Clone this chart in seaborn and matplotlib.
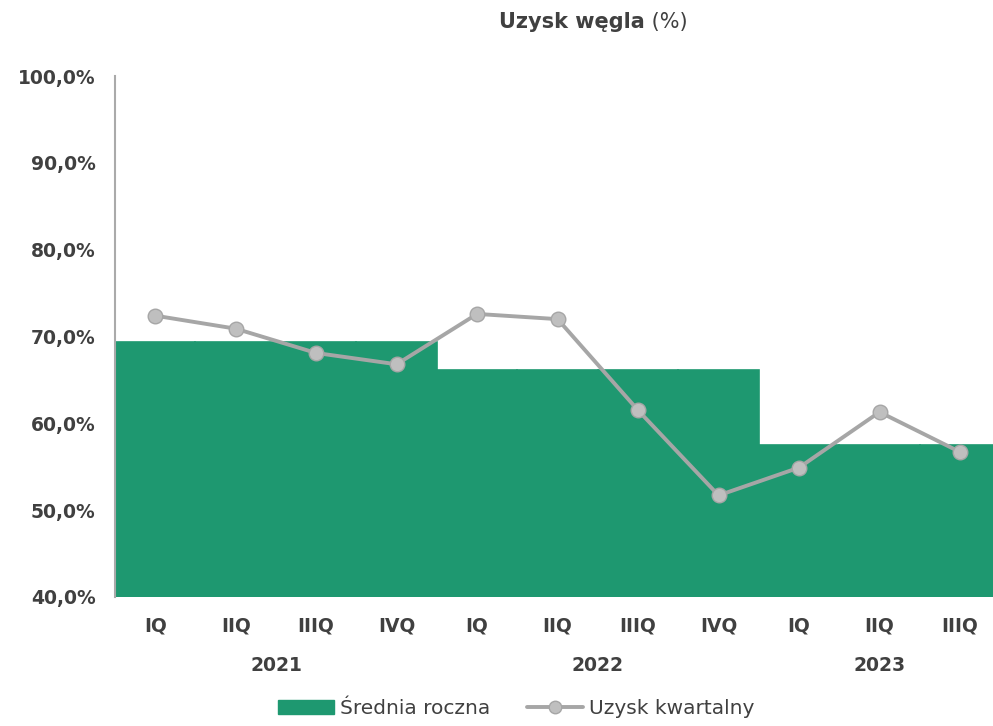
import pandas as pd
import seaborn as sns
import matplotlib.pyplot as plt
from matplotlib.patches import Patch
from matplotlib.lines import Line2D
import matplotlib.transforms as mtransforms

# --- Data ---
quarters = ["IQ", "IIQ", "IIIQ", "IVQ", "IQ", "IIQ", "IIIQ", "IVQ", "IQ", "IIQ", "IIIQ"]
years = ["2021", "2022", "2023"]
year_of_quarter = ["2021"] * 4 + ["2022"] * 4 + ["2023"] * 3
annual_avg = {"2021": 69.4, "2022": 66.1, "2023": 57.5}
quarterly_yield = [72.4, 70.9, 68.1, 66.8, 72.6, 72.0, 61.5, 51.7, 54.9, 61.3, 56.7]

df = pd.DataFrame({
    "pos": range(len(quarters)),
    "quarter": quarters,
    "year": year_of_quarter,
    "quarterly": quarterly_yield,
})
df["annual"] = df["year"].map(annual_avg)

green = "#1e9870"
line_gray = "#a6a6a6"
marker_gray = "#bfbfbf"
text_col = "#404040"

sns.set_style("white")
plt.rcParams["font.family"] = ["DejaVu Sans"]

fig = plt.figure(figsize=(9.93, 7.26), dpi=100)
ax = fig.add_axes([0.1158, 0.1777, 0.8842, 0.7176])

# --- Bars (annual average, one per quarter, no gaps) ---
sns.barplot(data=df, x="pos", y="annual", color=green, width=1.0,
            saturation=1, edgecolor=green, linewidth=1.2, ax=ax)

# --- Line (quarterly yield) ---
ax.plot(df["pos"], df["quarterly"], color=line_gray, linewidth=2.8,
        marker="o", markersize=10.5, markerfacecolor=marker_gray,
        markeredgecolor=line_gray, markeredgewidth=1, zorder=5)

ax.set_ylim(40, 100)
ax.set_xlim(-0.5, 10.41)
ax.set_yticks(range(40, 101, 10))
ax.set_yticklabels([f"{v},0%" for v in range(40, 101, 10)],
                   fontsize=13.5, fontweight="bold", color=text_col)
ax.set_xticks(range(len(quarters)))
ax.set_xticklabels(quarters, fontsize=13.5, fontweight="bold", color=text_col)
ax.tick_params(axis="x", length=0, pad=14)
ax.tick_params(axis="y", length=0, pad=14)
ax.set_xlabel("")
ax.set_ylabel("")

for s in ["top", "right", "bottom"]:
    ax.spines[s].set_visible(False)
ax.spines["left"].set_color("#aaaaaa")
ax.spines["left"].set_linewidth(1.5)

# --- Year labels ---
trans = mtransforms.blended_transform_factory(ax.transData, ax.transAxes)
for y in years:
    idx = df.index[df["year"] == y]
    ax.text(idx.to_series().mean(), -0.131, y, transform=trans, ha="center",
            va="center", fontsize=13.5, fontweight="bold", color=text_col)

# --- Title (bold part + regular part, centred together) ---
ty = 1 - 22 / 726
t1 = fig.text(0, ty, "Uzysk węgla", ha="left", va="center",
              fontsize=15, fontweight="bold", color=text_col)
t2 = fig.text(0, ty, " (%)", ha="left", va="center",
              fontsize=15, color=text_col)
r = fig.canvas.get_renderer()
w1 = t1.get_window_extent(r).width / fig.bbox.width
w2 = t2.get_window_extent(r).width / fig.bbox.width
x0 = 593 / 993 - (w1 + w2) / 2
t1.set_x(x0)
t2.set_x(x0 + w1)

# --- Legend ---
handles = [
    Patch(facecolor=green, edgecolor=green, label="Średnia roczna"),
    Line2D([0], [0], color=line_gray, linewidth=2.8, marker="o", markersize=9,
           markerfacecolor=marker_gray, markeredgecolor=line_gray,
           label="Uzysk kwartalny"),
]
fig.legend(handles=handles, loc="lower center", bbox_to_anchor=(0.52, -0.014),
           ncol=2, frameon=False, fontsize=14.5, handlelength=2.8,
           handleheight=0.7, columnspacing=1.8, handletextpad=0.3,
           labelcolor=text_col)

fig.savefig("out.png", dpi=100)
